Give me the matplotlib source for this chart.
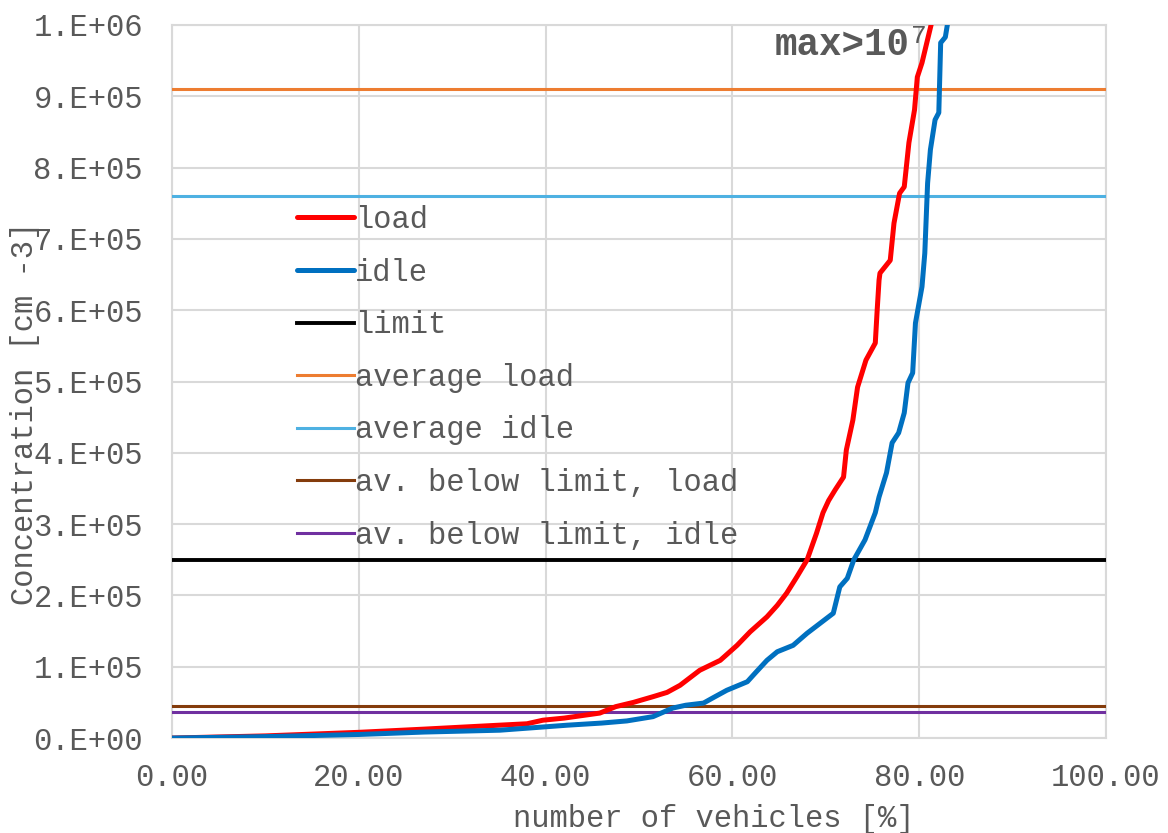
"""
Concentration vs. share of vehicles, load and idle, with reference levels.
"""

import numpy as np
import matplotlib.pyplot as plt

# cumulative share of vehicles [%] and concentration, load
load_x = [0, 10, 20, 27, 35, 38, 39.7, 42, 45.8, 47.5, 49.4, 51.5, 53, 54.4,
          55.5, 56.5, 58.7, 60.5, 61.9, 63.7, 64.8, 65.8, 66.9, 68.0, 69.0,
          69.7, 70.3, 71.0, 71.9, 72.2, 72.9, 73.4, 74.3, 75.3, 75.5, 75.7,
          75.8, 76.9, 77.3, 77.9, 78.4, 78.9, 79.5, 79.8, 80.3, 81.4, 82.0, 100]
load_y = [0, 3000, 8000, 12500, 18000, 20000, 25000, 28000, 35000, 44000,
          50000, 58000, 64000, 74000, 85000, 95000, 109000, 130000, 149000,
          170000, 186000, 203000, 226000, 250000, 287000, 316000, 333000,
          348000, 366000, 404000, 446000, 492000, 530000, 554000, 600000,
          642000, 652000, 670000, 722000, 764000, 773000, 835000, 881000,
          927000, 947000, 1007000, 1500000, 12000000]

# idle
idle_x = [0, 10, 20, 27, 35.1, 42.3, 46, 48.7, 51.5, 53.6, 55, 56.9, 58,
          59.4, 61.6, 62.5, 63.7, 64.8, 66.5, 68.0, 69.4, 70.8, 71.5, 72.3,
          73.0, 74.2, 75.3, 75.7, 76.5, 77.1, 77.8, 78.4, 78.8, 79.3, 79.6,
          80.3, 80.6, 80.9, 81.2, 81.7, 82.1, 82.3, 82.8, 83.1, 84.0, 100]
idle_y = [0, 2000, 5000, 8400, 11000, 18000, 21000, 24000, 30000, 42000,
          46000, 49000, 57000, 67000, 79000, 92000, 109000, 121000, 130000,
          147000, 161000, 175000, 212000, 224000, 250000, 278000, 316000,
          338000, 372000, 414000, 428000, 456000, 498000, 512000, 582000,
          633000, 680000, 778000, 825000, 867000, 877000, 975000, 983000,
          1007000, 1500000, 11000000]

# reference levels
limit = 2.5e5
average_load = 9.1e5
average_idle = 7.6e5
below_limit_load = 4.5e4
below_limit_idle = 3.65e4

x_ticks = [0, 20, 40, 60, 80, 100]
x_tick_labels = ["0.00", "20.00", "40.00", "60.00", "80.00", "100.00"]
y_ticks = [0, 1e5, 2e5, 3e5, 4e5, 5e5, 6e5, 7e5, 8e5, 9e5, 1e6]
y_tick_labels = ["0.E+00", "1.E+05", "2.E+05", "3.E+05", "4.E+05", "5.E+05",
                 "6.E+05", "7.E+05", "8.E+05", "9.E+05", "1.E+06"]

plt.rcParams['font.family'] = ['Liberation Mono', 'DejaVu Sans']
grey = '#595959'

fig = plt.figure(figsize=(11.68, 8.33), dpi=100)
ax = fig.add_axes([0.1473, 0.1140, 0.7996, 0.8560])

ax.plot(load_x, load_y, color='#ff0000', lw=3.6, label='load', zorder=5,
        solid_capstyle='round')
ax.plot(idle_x, idle_y, color='#0070c0', lw=3.6, label='idle', zorder=5,
        solid_capstyle='round')
ax.axhline(limit, color='black', lw=2.8, label='limit', zorder=4)
ax.axhline(average_load, color='#ed7d31', lw=2.2, label='average load', zorder=4)
ax.axhline(average_idle, color='#4eb1e2', lw=2.2, label='average idle', zorder=4)
ax.axhline(below_limit_load, color='#843c0c', lw=2.2,
           label='av. below limit, load', zorder=4)
ax.axhline(below_limit_idle, color='#7030a0', lw=2.2,
           label='av. below limit, idle', zorder=4)

ax.set_xlim(0, 100)
ax.set_ylim(0, 1e6)
ax.set_xticks(x_ticks)
ax.set_xticklabels(x_tick_labels)
ax.set_yticks(y_ticks)
ax.set_yticklabels(y_tick_labels)
ax.tick_params(length=0, labelsize=22, labelcolor=grey)
ax.tick_params(axis='y', pad=21)
ax.tick_params(axis='x', pad=18)
ax.grid(True, color='#d9d9d9', lw=1.5)
ax.set_axisbelow(True)
for s in ax.spines.values():
    s.set_color('#d9d9d9')
    s.set_linewidth(1.5)

fig.text(714 / 1168, 1 - 819 / 833, 'number of vehicles [%]', fontsize=22,
         color=grey, ha='center', va='center')
fig.text(25 / 1168, 1 - 413 / 833, 'Concentration [cm -3]', fontsize=22,
         color=grey, ha='center', va='center', rotation=90)

# annotation at the top
fig.text(775 / 1168, 1 - 45 / 833, 'max>10', fontsize=27, fontweight='bold',
         color=grey, ha='left', va='center')
fig.text(911 / 1168, 1 - 36 / 833, '7', fontsize=19, color=grey,
         ha='left', va='center')

leg = ax.legend(loc='upper left', bbox_to_anchor=(297 / 1168, 1 - 205 / 833),
                bbox_transform=fig.transFigure, frameon=False, fontsize=22,
                handlelength=1.85, handletextpad=0.05, labelspacing=0.74,
                borderpad=0, borderaxespad=0)
for t in leg.get_texts():
    t.set_color(grey)

plt.savefig('out.png', dpi=100)
